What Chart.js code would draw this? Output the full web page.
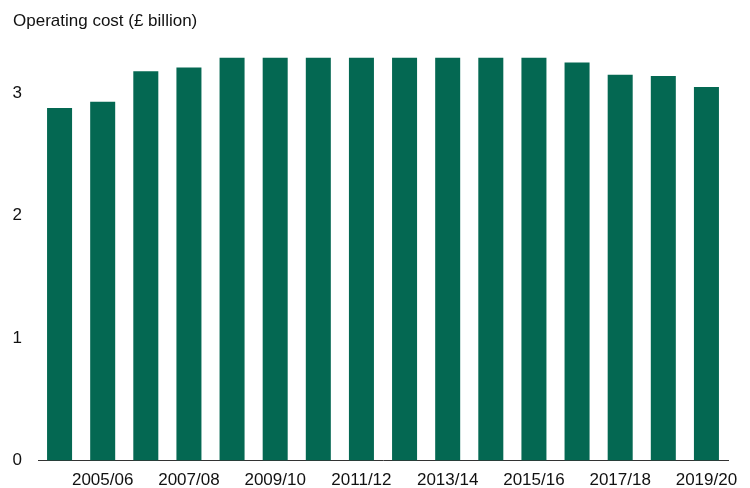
<!DOCTYPE html>
<html>
<head>
<meta charset="utf-8">
<script src="https://cdn.jsdelivr.net/npm/chart.js@4/dist/chart.umd.min.js"></script>
<style>
  html, body { margin: 0; padding: 0; background: #fff; }
  #wrap { width: 750px; height: 488px; position: relative; }
</style>
</head>
<body>
<div id="wrap"><canvas id="c" width="750" height="488"></canvas></div>
<script>
// financial years and operating cost (£ billion)
var YEARS = ['2004/05', '2005/06', '2006/07', '2007/08', '2008/09', '2009/10', '2010/11', '2011/12',
             '2012/13', '2013/14', '2014/15', '2015/16', '2016/17', '2017/18', '2018/19', '2019/20'];
var COST = [2.88, 2.93, 3.18, 3.21, 3.29, 3.29, 3.29, 3.29,
            3.29, 3.29, 3.29, 3.29, 3.25, 3.15, 3.14, 3.05];
var Y_TICKS = [0, 1, 2, 3];
var Y_TITLE = 'Operating cost (£ billion)';

var FONT = 'Arial, "Liberation Sans", sans-serif';
var GREEN = '#046852';

// axis caption sits above the plot, flush left
var yTitle = {
  id: 'yTitle',
  afterDraw: function (chart) {
    var ctx = chart.ctx;
    ctx.save();
    ctx.font = '17px ' + FONT;
    ctx.fillStyle = '#111';
    ctx.textBaseline = 'middle';
    ctx.textAlign = 'left';
    ctx.fillText(Y_TITLE, 13, 21);
    ctx.restore();
  }
};

new Chart(document.getElementById('c'), {
  type: 'bar',
  data: {
    labels: YEARS,
    datasets: [{ data: COST, backgroundColor: GREEN, borderWidth: 0, barPercentage: 0.58, categoryPercentage: 1 }]
  },
  options: {
    responsive: false,
    animation: false,
    layout: { padding: { top: 32, right: 22, left: 0, bottom: 0 } },
    plugins: { legend: { display: false }, tooltip: { enabled: false } },
    scales: {
      x: {
        grid: { display: false, drawTicks: false },
        border: { display: true, color: '#333', width: 1 },
        afterFit: function (s) { s.height = 27.5; },
        ticks: {
          autoSkip: false, maxRotation: 0, padding: 10, color: '#111', font: { family: FONT, size: 17 },
          callback: function (v, i) { return i % 2 === 1 ? YEARS[i] : ''; }
        }
      },
      y: {
        min: 0, max: 3.5,
        grid: { display: false, drawTicks: false },
        border: { display: false },
        afterFit: function (s) { s.width = 38; },
        afterBuildTicks: function (s) { s.ticks = Y_TICKS.map(function (v) { return { value: v }; }); },
        ticks: { padding: 16, color: '#111', font: { family: FONT, size: 17 } }
      }
    }
  },
  plugins: [yTitle]
});
</script>
</body>
</html>
